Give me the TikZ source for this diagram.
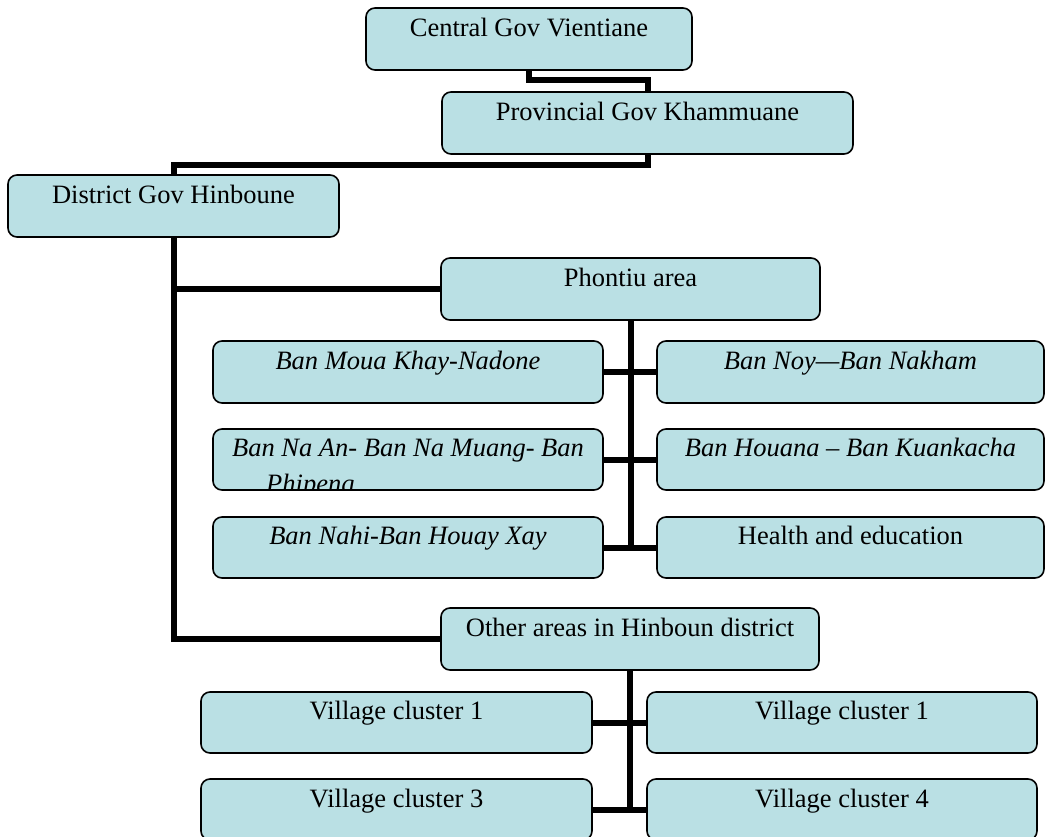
\documentclass[tikz,border=0pt]{standalone}
\usepackage{fontspec}
\setmainfont{Liberation Serif}
\definecolor{boxfill}{RGB}{186,224,228}
\begin{document}
\begin{tikzpicture}[x=1pt,y=-1pt,
  obox/.style={draw=black, line width=1.6pt, fill=boxfill, rounded corners=9pt, inner sep=0pt, minimum height=62pt},
  lbl/.style={anchor=base, inner sep=0pt, font=\fontsize{26.5}{30}\selectfont},
  ilbl/.style={lbl, font=\fontsize{26.5}{30}\selectfont\itshape},
  conn/.style={line width=6pt, black}]
\clip (0,0) rectangle (1046,837);
% boxes
\node[obox, minimum width=326pt] (central) at (529,39) {};
\node[obox, minimum width=411pt] (prov) at (647.5,123) {};
\node[obox, minimum width=331pt] (dist) at (173.5,206) {};
\node[obox, minimum width=379pt] (phon) at (630.5,289) {};
\node[obox, minimum width=390pt] (bm) at (408,372) {};
\node[obox, minimum width=387pt] (bn) at (850.5,372) {};
\node[obox, minimum width=390pt, minimum height=61pt] (bna) at (408,459.5) {};
\node[obox, minimum width=387pt, minimum height=61pt] (bh) at (850.5,459.5) {};
\node[obox, minimum width=390pt, minimum height=61pt] (bnh) at (408,547.5) {};
\node[obox, minimum width=387pt, minimum height=61pt] (he) at (850.5,547.5) {};
\node[obox, minimum width=378pt] (oth) at (630,639) {};
\node[obox, minimum width=391pt, minimum height=61pt] (v1) at (396.5,722.5) {};
\node[obox, minimum width=390pt, minimum height=61pt] (v2) at (842,722.5) {};
\node[obox, minimum width=391pt, minimum height=61pt] (v3) at (396.5,809.5) {};
\node[obox, minimum width=390pt, minimum height=61pt] (v4) at (842,809.5) {};
% labels
\node[lbl] (tcentral) at ([yshift=-29pt]central.north) {Central Gov Vientiane};
\node[lbl] (tprov) at ([yshift=-29pt]prov.north) {Provincial Gov Khammuane};
\node[lbl] (tdist) at ([yshift=-29pt]dist.north) {District Gov Hinboune};
\node[lbl] (tphon) at ([yshift=-29pt]phon.north) {Phontiu area};
\node[ilbl] (tbm) at ([yshift=-29pt]bm.north) {Ban Moua Khay-Nadone};
\node[ilbl] (tbn) at ([yshift=-29pt]bn.north) {Ban Noy---Ban Nakham};
\node[ilbl] (tbna) at ([yshift=-28pt]bna.north) {Ban Na An- Ban Na Muang- Ban};
\begin{scope}
\clip (214,430) rectangle (602,488);
\node[ilbl, anchor=base west] (tphi) at (266,492) {Phipeng};
\end{scope}
\node[ilbl] (tbh) at ([yshift=-28pt]bh.north) {Ban Houana -- Ban Kuankacha};
\node[ilbl] (tbnh) at ([yshift=-28pt]bnh.north) {Ban Nahi-Ban Houay Xay};
\node[lbl] (the) at ([yshift=-28pt]he.north) {Health and education};
\node[lbl] (toth) at ([yshift=-29pt]oth.north) {Other areas in Hinboun district};
\node[lbl] (tv1) at ([yshift=-28pt]v1.north) {Village cluster 1};
\node[lbl] (tv2) at ([yshift=-28pt]v2.north) {Village cluster 1};
\node[lbl] (tv3) at ([yshift=-29pt]v3.north) {Village cluster 3};
\node[lbl] (tv4) at ([yshift=-29pt]v4.north) {Village cluster 4};
% connectors
\draw[conn] (central.south) -- ++(0,9) -| (prov.north);
\draw[conn] (prov.south) -- ++(0,10) -| (dist.north);
\draw[conn] (dist.south) |- (oth.west);
\draw[conn] (dist.south |- phon.west) -- (phon.west);
\draw[conn] (phon.south) -- (phon.south |- he.west);
\draw[conn] (bm.east) -- (bn.west);
\draw[conn] (bna.east) -- (bh.west);
\draw[conn] (bnh.east) -- (he.west);
\draw[conn] (oth.south) -- (oth.south |- v4.west);
\draw[conn] (v1.east) -- (v2.west);
\draw[conn] (v3.east) -- (v4.west);
\end{tikzpicture}
\end{document}
